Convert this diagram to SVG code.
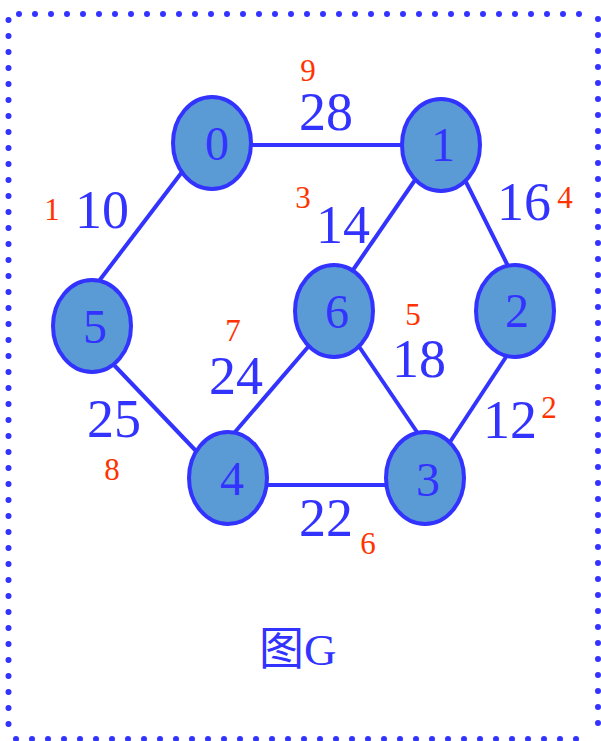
<svg xmlns="http://www.w3.org/2000/svg" width="601" height="741" viewBox="0 0 601 741">
<style>
.border{stroke:#3333ff;stroke-width:6;stroke-linecap:round;stroke-dasharray:0 16;fill:none}
.edge{stroke:#3333ff;stroke-width:4;fill:none}
.node{fill:#5b9bd5;stroke:#3333ff;stroke-width:4}
.nl{font-family:"Liberation Serif","Times New Roman",serif;font-size:48px;fill:#3333ff;text-anchor:middle}
.el{font-family:"Liberation Serif","Times New Roman",serif;font-size:54px;fill:#3333ff;text-anchor:middle}
.rl{font-family:"Liberation Serif","Times New Roman",serif;font-size:31px;fill:#ff3300;text-anchor:middle}
.cap{font-family:"Liberation Serif","Noto Sans CJK SC",serif;font-size:45px;fill:#3333ff}
</style>
<g id="border">
<line class="border" x1="19" y1="14" x2="595" y2="14"/>
<line class="border" x1="8.5" y1="20" x2="8.5" y2="740"/>
<line class="border" x1="598" y1="19" x2="598" y2="730"/>
<line class="border" x1="16" y1="739" x2="592" y2="739"/>
</g>
<g id="connectors">
<line class="edge" x1="251" y1="145" x2="402" y2="145"/>
<line class="edge" x1="182" y1="172" x2="99" y2="281"/>
<line class="edge" x1="415" y1="180" x2="353" y2="270"/>
<line class="edge" x1="463" y1="176" x2="508" y2="266"/>
<line class="edge" x1="114" y1="365" x2="197" y2="452"/>
<line class="edge" x1="308" y1="347" x2="235" y2="432"/>
<line class="edge" x1="358" y1="345" x2="417" y2="432"/>
<line class="edge" x1="506" y1="357" x2="450" y2="442"/>
<line class="edge" x1="267" y1="485" x2="387" y2="485"/>
</g>
<g id="node0"><ellipse class="node" cx="212" cy="143" rx="39" ry="46"/><text class="nl" x="217" y="160">0</text></g>
<g id="node1"><ellipse class="node" cx="441" cy="145" rx="39" ry="46"/><text class="nl" x="443" y="161">1</text></g>
<g id="node2"><ellipse class="node" cx="515" cy="311" rx="39" ry="46"/><text class="nl" x="517" y="327">2</text></g>
<g id="node3"><ellipse class="node" cx="425" cy="478" rx="39" ry="46"/><text class="nl" x="428" y="496">3</text></g>
<g id="node4"><ellipse class="node" cx="228" cy="478" rx="39" ry="46"/><text class="nl" x="232" y="495">4</text></g>
<g id="node5"><ellipse class="node" cx="92" cy="326" rx="39" ry="46"/><text class="nl" x="95" y="343">5</text></g>
<g id="node6"><ellipse class="node" cx="334" cy="311" rx="39" ry="46"/><text class="nl" x="337" y="328">6</text></g>
<g id="weights">
<text class="el" x="326" y="130">28</text>
<text class="el" x="102" y="228">10</text>
<text class="el" x="343" y="243">14</text>
<text class="el" x="524" y="220">16</text>
<text class="el" x="236" y="394">24</text>
<text class="el" x="419" y="377">18</text>
<text class="el" x="114" y="437">25</text>
<text class="el" x="510" y="438">12</text>
<text class="el" x="326" y="536">22</text>
</g>
<g id="order">
<text class="rl" x="308" y="81">9</text>
<text class="rl" x="52" y="220">1</text>
<text class="rl" x="303" y="208">3</text>
<text class="rl" x="565" y="208">4</text>
<text class="rl" x="233" y="341">7</text>
<text class="rl" x="413" y="325">5</text>
<text class="rl" x="549" y="418">2</text>
<text class="rl" x="112" y="480">8</text>
<text class="rl" x="368" y="554">6</text>
</g>
<text class="cap" x="259" y="665">图G</text>
</svg>
